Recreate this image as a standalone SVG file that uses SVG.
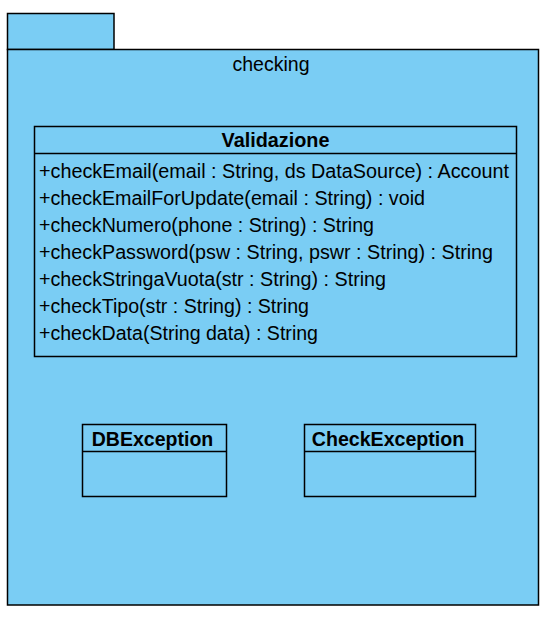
<svg xmlns="http://www.w3.org/2000/svg" width="549" height="617" viewBox="0 0 549 617">
<style>
.box{fill:#7acdf4;stroke:#000;stroke-width:1.5}
.div{stroke:#000;stroke-width:1.5}
.t{font-family:"Liberation Sans",Arial,sans-serif;font-size:19.5px;fill:#000}
.b{font-weight:bold}
</style>
<rect width="549" height="617" fill="#fff"/>
<g id="package-checking">
<rect class="box" x="7.5" y="13.5" width="106.5" height="36"/>
<rect class="box" x="7.5" y="49.5" width="531" height="555.5"/>
<text class="t" x="271" y="70.5" text-anchor="middle">checking</text>
</g>
<g id="class-Validazione">
<rect class="box" x="34.5" y="126.5" width="482" height="230"/>
<line class="div" x1="34.5" y1="153.5" x2="516.5" y2="153.5"/>
<text class="t b" x="275.5" y="147" text-anchor="middle" textLength="108" lengthAdjust="spacingAndGlyphs">Validazione</text>
<text class="t" x="39" y="177.5" textLength="470" lengthAdjust="spacingAndGlyphs">+checkEmail(email : String, ds DataSource) : Account</text>
<text class="t" x="39" y="204.5" textLength="386" lengthAdjust="spacingAndGlyphs">+checkEmailForUpdate(email : String) : void</text>
<text class="t" x="39" y="231.5" textLength="335" lengthAdjust="spacingAndGlyphs">+checkNumero(phone : String) : String</text>
<text class="t" x="39" y="258.5" textLength="454" lengthAdjust="spacingAndGlyphs">+checkPassword(psw : String, pswr : String) : String</text>
<text class="t" x="39" y="285.5" textLength="347" lengthAdjust="spacingAndGlyphs">+checkStringaVuota(str : String) : String</text>
<text class="t" x="39" y="312.5" textLength="270" lengthAdjust="spacingAndGlyphs">+checkTipo(str : String) : String</text>
<text class="t" x="39" y="339.5" textLength="279" lengthAdjust="spacingAndGlyphs">+checkData(String data) : String</text>
</g>
<g id="class-DBException">
<rect class="box" x="82.5" y="424.5" width="144" height="72"/>
<line class="div" x1="82.5" y1="451.5" x2="226.5" y2="451.5"/>
<text class="t b" x="152.5" y="446" text-anchor="middle" textLength="121.5" lengthAdjust="spacingAndGlyphs">DBException</text>
</g>
<g id="class-CheckException">
<rect class="box" x="304.5" y="424.5" width="171" height="72"/>
<line class="div" x1="304.5" y1="451.5" x2="475.5" y2="451.5"/>
<text class="t b" x="388" y="446" text-anchor="middle" textLength="152.5" lengthAdjust="spacingAndGlyphs">CheckException</text>
</g>
<g id="connectors"/>
</svg>
